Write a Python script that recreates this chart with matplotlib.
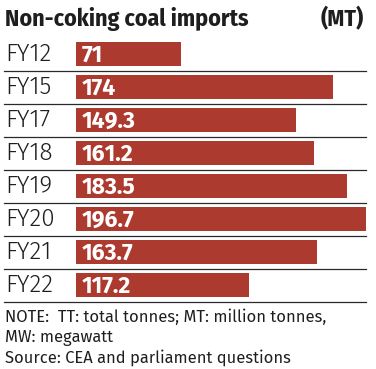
import matplotlib

matplotlib.use("Agg")
import matplotlib.pyplot as plt
from matplotlib.transforms import blended_transform_factory

years = ["FY12", "FY15", "FY17", "FY18", "FY19", "FY20", "FY21", "FY22"]
imports_mt = [71, 174, 149.3, 161.2, 183.5, 196.7, 163.7, 117.2]
value_labels = ["71", "174", "149.3", "161.2", "183.5", "196.7", "163.7", "117.2"]

title = "Non-coking coal imports"
unit = "(MT)"
notes = [
    "NOTE:  TT: total tonnes; MT: million tonnes,",
    "MW: megawatt",
    "Source: CEA and parliament questions",
]

bar_color = "#ad3a2f"
text_color = "#1e1e1e"
condensed = ["Fira Sans Condensed", "DejaVu Sans"]
regular = ["Fira Sans", "DejaVu Sans"]

W, H = 376, 369
fig = plt.figure(figsize=(W / 100, H / 100), dpi=100)
ax = fig.add_axes([76 / W, 1 - 301.5 / H, 290 / W, 264 / H])

pos = list(range(len(years)))
ax.barh(pos, imports_mt, height=0.73, color=bar_color)
ax.set_xlim(0, max(imports_mt))
ax.set_ylim(len(years) - 0.5, -0.5)
ax.axis("off")

# separators under each row
for i in pos:
    ax.axhline(i + 0.5, xmin=(4 - 76) / 290, xmax=1.0, color="#2a2a2a",
               lw=0.9, clip_on=False)

label_tr = blended_transform_factory(fig.transFigure, ax.transData)
for i, (yr, v, lab) in enumerate(zip(years, imports_mt, value_labels)):
    ax.text(5 / W, i + 0.02, yr, transform=label_tr, ha="left", va="center",
            fontsize=17.5, family=regular, weight=300, color=text_color)
    ax.text(4.0, i + 0.04, lab, ha="left", va="center", fontsize=16.5,
            family=regular, weight="bold", color="white")

fig.text(5 / W, 1 - 19 / H, title, ha="left", va="center", fontsize=17.2,
         family=condensed, weight="bold", color=text_color)
fig.text(364 / W, 1 - 19 / H, unit, ha="right", va="center", fontsize=17.2,
         family=condensed, weight="bold", color=text_color)

for k, line in enumerate(notes):
    fig.text(5 / W, 1 - (317 + 20.5 * k) / H, line, ha="left", va="center",
             fontsize=11.9, family=regular, color=text_color)

fig.savefig("out.png", dpi=100, facecolor="white")
plt.close(fig)
